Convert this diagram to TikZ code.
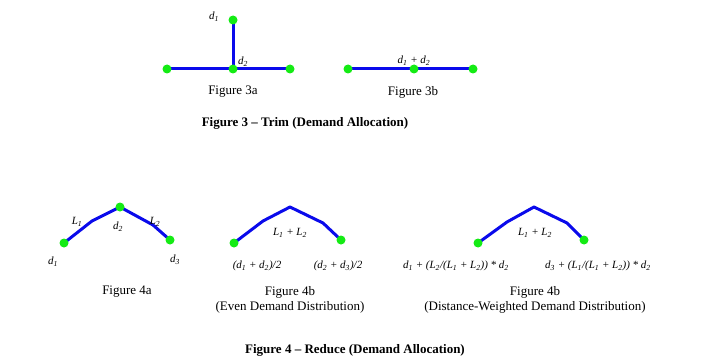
\documentclass[tikz,border=0pt]{standalone}
\usepackage{fontspec}
\setmainfont{Liberation Serif}
\usetikzlibrary{backgrounds}
\definecolor{lineblue}{RGB}{10,10,235}
\definecolor{dotgreen}{RGB}{20,235,20}
\newcommand\sx[2]{\textit{#1}\textsubscript{\textit{#2}}}
\tikzset{
  dot/.style={circle, fill=dotgreen, inner sep=0pt, minimum size=9pt},
  pipe/.style={draw=lineblue, line width=3pt, line join=round},
  lbl/.style={font=\fontsize{11}{12}\selectfont\itshape, inner sep=0pt},
  figcap/.style={font=\fontsize{13}{15}\selectfont, inner sep=0pt, align=center},
  titlecap/.style={font=\fontsize{13}{15}\selectfont\bfseries, inner sep=0pt}
}
\begin{document}
\begin{tikzpicture}[x=1pt,y=-1pt]
\useasboundingbox (0,0) rectangle (707,361);
% Figure 3a
\node[dot] (a1) at (233,20) {};
\node[dot] (a2) at (233,69) {};
\node[dot] (a3) at (167,69) {};
\node[dot] (a4) at (290,69) {};
% Figure 3b
\node[dot] (b1) at (348,69) {};
\node[dot] (b2) at (414,69) {};
\node[dot] (b3) at (473,69) {};
% Figure 4a
\node[dot] (c1) at (64,243) {};
\coordinate (c2) at (92,221);
\node[dot] (c3) at (120,207) {};
\coordinate (c4) at (153,225);
\node[dot] (c5) at (170,240) {};
% Figure 4b
\node[dot] (e1) at (234,243) {};
\coordinate (e2) at (263,221);
\coordinate (e3) at (290,207);
\coordinate (e4) at (323,223);
\node[dot] (e5) at (341,240) {};
% Figure 4c
\node[dot] (f1) at (478,243) {};
\coordinate (f2) at (507,222);
\coordinate (f3) at (534,207);
\coordinate (f4) at (567,223);
\node[dot] (f5) at (584,240) {};
\begin{scope}[on background layer]
\draw[pipe] (a1.center) -- (a2.center);
\draw[pipe] (a3.center) -- (a2.center) -- (a4.center);
\draw[pipe] (b1.center) -- (b2.center) -- (b3.center);
\draw[pipe] (c1.center) -- (c2) -- (c3.center) -- (c4) -- (c5.center);
\draw[pipe] (e1.center) -- (e2) -- (e3) -- (e4) -- (e5.center);
\draw[pipe] (f1.center) -- (f2) -- (f3) -- (f4) -- (f5.center);
\end{scope}
% labels fig 3
\node[lbl] (la1) at (214,17) {\sx{d}{1}};
\node[lbl] (la2) at (243,62) {\sx{d}{2}};
\node[lbl] (lb) at (414,61) {\sx{d}{1} + \sx{d}{2}};
\node[figcap] (ca) at (233,92) {Figure 3a};
\node[figcap] (cb) at (413,92) {Figure 3b};
\node[titlecap] (t3) at (305,123) {Figure 3 -- Trim (Demand Allocation)};
% labels fig 4a
\node[lbl] (lc1) at (77,222) {\sx{L}{1}};
\node[lbl] (lc2) at (118,227) {\sx{d}{2}};
\node[lbl] (lc3) at (155,222) {\sx{L}{2}};
\node[lbl] (lc4) at (53,262) {\sx{d}{1}};
\node[lbl] (lc5) at (175,260) {\sx{d}{3}};
\node[figcap] (cc) at (127,292) {Figure 4a};
% labels fig 4b
\node[lbl] (le1) at (290,233) {\sx{L}{1} + \sx{L}{2}};
\node[lbl] (le2) at (257,266) {(\sx{d}{1} + \sx{d}{2})/2};
\node[lbl] (le3) at (338,266) {(\sx{d}{2} + \sx{d}{3})/2};
\node[figcap] (ce) at (290,300) {Figure 4b\\(Even Demand Distribution)};
% labels fig 4c
\node[lbl] (lf1) at (535,233) {\sx{L}{1} + \sx{L}{2}};
\node[lbl] (lf2) at (456,266) {\sx{d}{1} + (\sx{L}{2}/(\sx{L}{1} + \sx{L}{2})) * \sx{d}{2}};
\node[lbl] (lf3) at (598,266) {\sx{d}{3} + (\sx{L}{1}/(\sx{L}{1} + \sx{L}{2})) * \sx{d}{2}};
\node[figcap] (cf) at (535,300) {Figure 4b\\(Distance-Weighted Demand Distribution)};
\node[titlecap] (t4) at (355,350) {Figure 4 -- Reduce (Demand Allocation)};
\end{tikzpicture}
\end{document}
